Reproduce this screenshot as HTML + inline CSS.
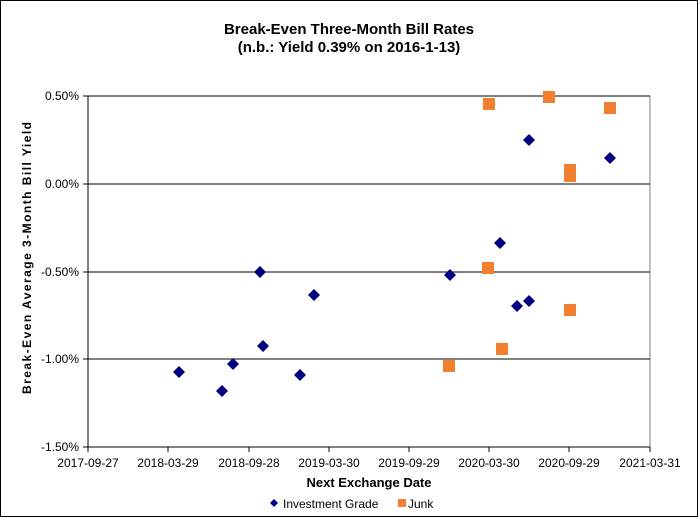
<!DOCTYPE html>
<html><head><style>body{margin:0;background:#fff}svg{display:block}</style></head><body>
<svg width="698" height="517" xmlns="http://www.w3.org/2000/svg" font-family="Liberation Sans, Arial, sans-serif">
<rect x="0.5" y="0.5" width="697" height="516" fill="#fff" stroke="#000"/>
<text x="349" y="34" text-anchor="middle" font-size="15" font-weight="bold">Break-Even Three-Month Bill Rates</text>
<text x="349" y="52" text-anchor="middle" font-size="15" font-weight="bold">(n.b.: Yield 0.39% on 2016-1-13)</text>
<rect x="88" y="96" width="562" height="351" fill="none" stroke="#808080"/>
<g stroke="#000">
<line x1="88" y1="184" x2="650" y2="184"/><line x1="88" y1="272" x2="650" y2="272"/><line x1="88" y1="359" x2="650" y2="359"/><line x1="88" y1="96" x2="650" y2="96"/>
<line x1="88" y1="96" x2="88" y2="447"/><line x1="88" y1="447" x2="650" y2="447"/>
<line x1="83" y1="96" x2="88" y2="96"/><line x1="83" y1="184" x2="88" y2="184"/><line x1="83" y1="272" x2="88" y2="272"/><line x1="83" y1="359" x2="88" y2="359"/><line x1="83" y1="447" x2="88" y2="447"/>
<line x1="88" y1="447" x2="88" y2="452"/><line x1="168" y1="447" x2="168" y2="452"/><line x1="249" y1="447" x2="249" y2="452"/><line x1="329" y1="447" x2="329" y2="452"/><line x1="409" y1="447" x2="409" y2="452"/><line x1="489" y1="447" x2="489" y2="452"/><line x1="569" y1="447" x2="569" y2="452"/><line x1="650" y1="447" x2="650" y2="452"/>
</g>
<g font-size="12" text-anchor="end">
<text x="79" y="100">0.50%</text><text x="79" y="188">0.00%</text><text x="79" y="276">-0.50%</text><text x="79" y="363">-1.00%</text><text x="79" y="451">-1.50%</text>
</g>
<g font-size="12" text-anchor="middle">
<text x="88" y="467">2017-09-27</text><text x="168" y="467">2018-03-29</text><text x="249" y="467">2018-09-28</text><text x="329" y="467">2019-03-30</text><text x="409" y="467">2019-09-29</text><text x="489" y="467">2020-03-30</text><text x="569" y="467">2020-09-29</text><text x="650" y="467">2021-03-31</text>
</g>
<text x="369" y="487" text-anchor="middle" font-size="13" font-weight="bold">Next Exchange Date</text>
<text transform="translate(31,258) rotate(-90)" text-anchor="middle" font-size="12" font-weight="bold" textLength="272" lengthAdjust="spacing">Break-Even Average 3-Month Bill Yield</text>
<g fill="#000080">
<path d="M179,366l6,6l-6,6l-6,-6z"/><path d="M222,385l6,6l-6,6l-6,-6z"/><path d="M233,358l6,6l-6,6l-6,-6z"/><path d="M260,266l6,6l-6,6l-6,-6z"/><path d="M263,340l6,6l-6,6l-6,-6z"/><path d="M300,369l6,6l-6,6l-6,-6z"/><path d="M314,289l6,6l-6,6l-6,-6z"/><path d="M450,269l6,6l-6,6l-6,-6z"/><path d="M500,237l6,6l-6,6l-6,-6z"/><path d="M517,300l6,6l-6,6l-6,-6z"/><path d="M529,295l6,6l-6,6l-6,-6z"/><path d="M529,134l6,6l-6,6l-6,-6z"/><path d="M610,152l6,6l-6,6l-6,-6z"/>
<path d="M274,499l4,4l-4,4l-4,-4z"/>
</g>
<g fill="#F08030">
<rect x="483" y="98" width="12" height="12"/><rect x="543" y="91" width="12" height="12"/><rect x="604" y="102" width="12" height="12"/><rect x="482" y="262" width="12" height="12"/><rect x="496" y="343" width="12" height="12"/><rect x="443" y="360" width="12" height="12"/><rect x="564" y="304" width="12" height="12"/><rect x="564" y="164" width="12" height="18"/>
<rect x="398" y="499" width="8" height="8"/>
</g>
<text x="283" y="508" font-size="12">Investment Grade</text>
<text x="408" y="508" font-size="12">Junk</text>
</svg>
</body></html>
